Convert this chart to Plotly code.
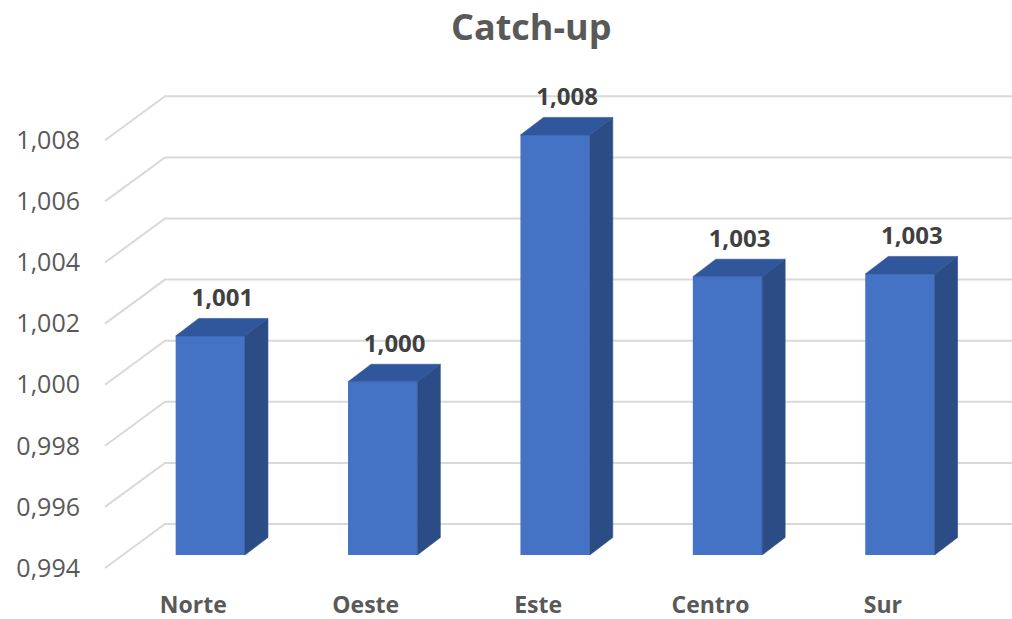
import plotly.graph_objects as go

# ---- data ----
categories = ["Norte", "Oeste", "Este", "Centro", "Sur"]
values = [1.00117, 0.99967, 1.00775, 1.00311, 1.00320]
tick_values = [0.994, 0.996, 0.998, 1.000, 1.002, 1.004, 1.006, 1.008]
tick_labels = ["0,994", "0,996", "0,998", "1,000", "1,002", "1,004", "1,006", "1,008"]
BASE = 0.994

# ---- page geometry (pixels) ----
W, H = 1012, 619
ML, MR, MT, MB = 100, 0, 70, 40
PW, PH = W - ML - MR, H - MT - MB
SX = 172.4          # px per category step
SY = 30550.0        # px per unit of value
X0_PX = 110.3       # first bar centre, from plot left
BASE_PX = 24.0      # baseline height above plot bottom

x_range = [-X0_PX / SX, (PW - X0_PX) / SX]
y_range = [BASE - BASE_PX / SY, BASE + (PH - BASE_PX) / SY]

def dx(px):
    return px / SX

def dy(px):
    return px / SY

BAR_W = dx(69.3)
# oblique depth of a column, of the back wall and of the front floor edge
DEPTH_BAR = (dx(23), dy(17.5))
DEPTH_WALL = (dx(42), dy(31))
DEPTH_FRONT = (dx(-18), dy(-13))
LEFT_EDGE = x_range[0] + dx(23)

FRONT = "#4472C4"
SIDE = "#2B4C85"
TOP = "#30579B"
GRID = "#D9D9D9"
FONT = "Open Sans"

fig = go.Figure()

# column fronts
idx = list(range(len(categories)))
fig.add_trace(go.Bar(
    x=idx, y=[v - BASE for v in values], base=BASE, width=BAR_W,
    marker=dict(color=FRONT, line=dict(width=0)), hoverinfo="skip",
))

# column side and top faces
side_x, side_y, top_x, top_y = [], [], [], []
bx, by = DEPTH_BAR
for i, v in zip(idx, values):
    xl, xr = i - BAR_W / 2, i + BAR_W / 2
    side_x += [xr, xr, xr + bx, xr + bx, xr, None]
    side_y += [BASE, v, v + by, BASE + by, BASE, None]
    top_x += [xl, xr, xr + bx, xl + bx, xl, None]
    top_y += [v, v, v + by, v + by, v, None]

fig.add_trace(go.Scatter(x=side_x, y=side_y, mode="lines", fill="toself",
                         fillcolor=SIDE, line=dict(width=0.6, color=SIDE),
                         hoverinfo="skip"))
fig.add_trace(go.Scatter(x=top_x, y=top_y, mode="lines", fill="toself",
                         fillcolor=TOP, line=dict(width=0.6, color=TOP),
                         hoverinfo="skip"))

# value labels above each column
fig.add_trace(go.Scatter(
    x=[i + dx(12) for i in idx], y=[v + by + dy(6) for v in values],
    mode="text", text=[f"{v:.3f}".replace(".", ",") for v in values],
    textposition="top center",
    textfont=dict(family=FONT, size=24, color="#404040", weight="bold"),
    hoverinfo="skip",
))

# perspective gridlines: front edge -> back wall -> across the wall
fx, fy = DEPTH_FRONT
wx, wy = DEPTH_WALL
for t in tick_values:
    path = (f"M {LEFT_EDGE + fx} {t + fy} L {LEFT_EDGE + wx} {t + wy} "
            f"L {x_range[1] + 1} {t + wy}")
    fig.add_shape(type="path", path=path, xref="x", yref="y",
                  line=dict(color=GRID, width=2), layer="below")

fig.update_layout(
    width=W, height=H,
    margin=dict(l=ML, r=MR, t=MT, b=MB),
    paper_bgcolor="white", plot_bgcolor="white",
    showlegend=False,
    title=dict(text="<b>Catch-up</b>", x=0.525, xanchor="center",
               y=1 - 27 / H, yanchor="middle",
               font=dict(family=FONT, size=36, color="#595959")),
    xaxis=dict(range=x_range, tickvals=idx, ticktext=categories,
               showgrid=False, zeroline=False, showline=False, ticks="",
               ticklabelshift=-17, ticklabelstandoff=10,
               tickfont=dict(family=FONT, size=23, color="#595959", weight="bold")),
    yaxis=dict(range=y_range, tickvals=tick_values, ticktext=tick_labels,
               showgrid=False, zeroline=False, showline=False, ticks="",
               ticklabelshift=13, ticklabelstandoff=19,
               tickfont=dict(family=FONT, size=25, color="#595959")),
)

fig.write_html("out.html")
